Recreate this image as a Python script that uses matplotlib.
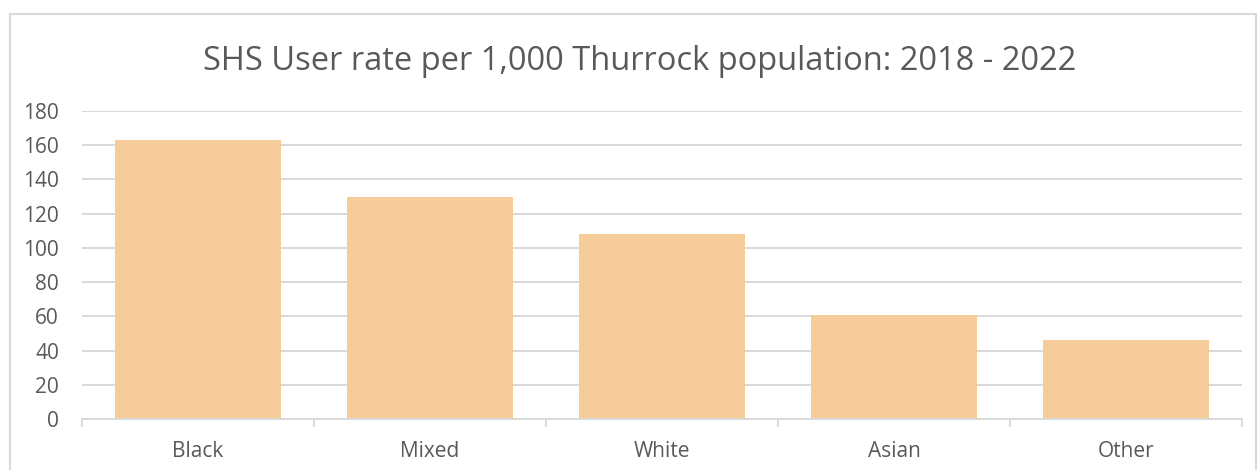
import matplotlib.pyplot as plt
from matplotlib.patches import Rectangle
import numpy as np

# SHS user rate per 1,000 population by ethnic group
groups = ["Black", "Mixed", "White", "Asian", "Other"]
rates = [163, 130, 108, 61, 46]
y_ticks = [0, 20, 40, 60, 80, 100, 120, 140, 160, 180]

bar_color = "#F5CC9A"
text_color = "#595959"
grid_color = "#D9D9D9"

plt.rcParams['font.family'] = ['Open Sans', 'DejaVu Sans']

fig = plt.figure(figsize=(12.58, 4.70), dpi=100)
ax = fig.add_axes([82 / 1258, 1 - 419 / 470, (1242 - 82) / 1258, (419 - 111) / 470])

x = np.arange(len(groups))
ax.bar(x, rates, width=0.715, color=bar_color, zorder=2)

ax.set_xlim(-0.5, len(groups) - 0.5)
ax.set_ylim(0, 180)
ax.set_yticks(y_ticks)
ax.set_yticklabels([str(v) for v in y_ticks], fontsize=15, color=text_color)
ax.set_xticks(x)
ax.set_xticklabels(groups, fontsize=15, color=text_color)
ax.tick_params(axis='y', length=0, pad=16.5)
ax.tick_params(axis='x', length=0, pad=16)

# category boundary ticks below the axis line
ax.set_xticks(np.arange(-0.5, len(groups)), minor=True)
ax.tick_params(axis='x', which='minor', length=6, width=1.3, color=grid_color, direction='out')

ax.grid(axis='y', color=grid_color, linewidth=1.4, zorder=0)
for side in ['top', 'right', 'left']:
    ax.spines[side].set_visible(False)
ax.spines['bottom'].set_color(grid_color)
ax.spines['bottom'].set_linewidth(1.4)

fig.text(640 / 1258, 1 - 61 / 470, "SHS User rate per 1,000 Thurrock population: 2018 - 2022",
         ha='center', va='center', fontsize=23.5, color=text_color)

# light frame around the chart
fig.patches.append(Rectangle((10 / 1258, -0.05), (1256 - 10) / 1258, 1.05 - 14 / 470,
                             transform=fig.transFigure, fill=False,
                             edgecolor=grid_color, linewidth=1.5))

fig.savefig("out.png", dpi=100)
